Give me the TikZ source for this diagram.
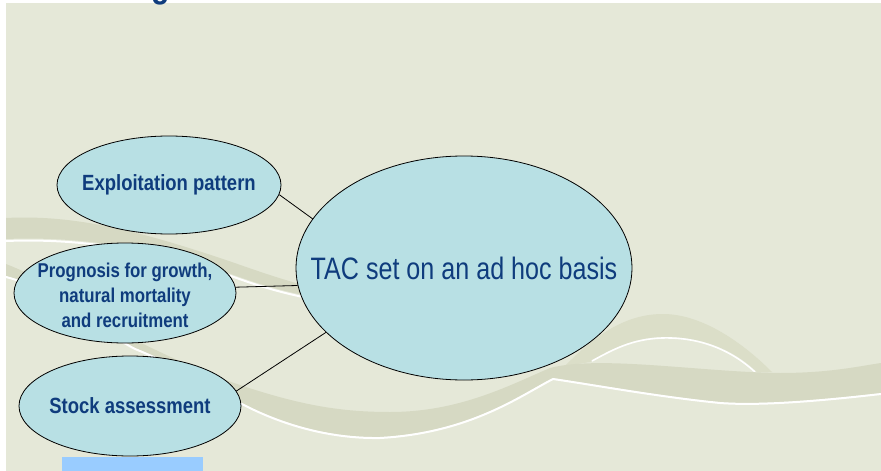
\documentclass[tikz,border=0pt]{standalone}
\usepackage{fontspec}
\usetikzlibrary{shapes.geometric}
\newfontfamily\tacfont[FakeStretch=0.81]{Liberation Sans}
\newfontfamily\lblfont[FakeStretch=0.84]{Liberation Sans}
\definecolor{bgcol}{HTML}{E5E8D8}
\definecolor{bandcol}{HTML}{D6D9C3}
\definecolor{humpcol}{HTML}{DBDEC8}
\definecolor{ellfill}{HTML}{B8E0E4}
\definecolor{txtblue}{HTML}{0F3C7D}
\definecolor{rectblue}{HTML}{99CCFF}
\begin{document}
\begin{tikzpicture}[x=1pt,y=-1pt,
  ell/.style={ellipse, draw=black, line width=0.8pt, fill=ellfill, inner sep=0pt},
  lbl/.style={text=txtblue, font=\lblfont\bfseries\fontsize{22}{26}\selectfont, align=center, inner sep=0pt},
  smlbl/.style={lbl, font=\lblfont\bfseries\fontsize{20}{25}\selectfont},
  taclbl/.style={text=txtblue, font=\tacfont\fontsize{31}{37}\selectfont, inner sep=0pt},
  conn/.style={draw=black, line width=0.8pt},
  whiteline/.style={draw=white, line width=2pt}]
\useasboundingbox (0,0) rectangle (881,471);
\clip (0,0) rectangle (881,471);
% background
\fill[bgcol] (6,3) rectangle (881,471);
% upper-left swoosh
\fill[bandcol] (6,218) .. controls (80,214) and (150,235) .. (220,258)
  .. controls (250,268) and (280,280) .. (330,292)
  -- (330,300) .. controls (280,292) and (250,281) .. (220,270)
  .. controls (150,248) and (80,236) .. (6,239) -- cycle;
\draw[whiteline] (6,241) .. controls (80,238) and (150,250) .. (220,272)
  .. controls (250,283) and (280,294) .. (330,302);
% hump swoosh
\fill[humpcol] (565,366) .. controls (600,330) and (630,314) .. (663,314)
  .. controls (700,314) and (740,340) .. (772,372)
  -- (757,372) .. controls (730,346) and (695,336) .. (662,337)
  .. controls (630,338) and (610,350) .. (590,362) -- cycle;
\draw[whiteline, line width=1.6pt] (592,361) .. controls (612,350) and (632,339) .. (662,338)
  .. controls (695,337) and (728,347) .. (755,372);
% lower swoosh
\fill[bandcol] (6,264) .. controls (60,285) and (100,320) .. (135,340)
  .. controls (180,362) and (210,375) .. (240,385)
  .. controls (300,405) and (340,412) .. (390,412)
  .. controls (460,412) and (510,385) .. (550,368)
  .. controls (600,355) and (700,372) .. (780,373)
  .. controls (830,373) and (860,366) .. (881,363)
  -- (881,393) .. controls (820,400) and (760,405) .. (720,402)
  .. controls (660,396) and (600,385) .. (553,378)
  .. controls (520,395) and (470,432) .. (380,437)
  .. controls (320,438) and (270,418) .. (240,402)
  .. controls (200,380) and (170,362) .. (135,348)
  .. controls (100,330) and (60,290) .. (6,276) -- cycle;
\draw[whiteline] (881,394) .. controls (820,401) and (760,406) .. (720,403)
  .. controls (660,397) and (600,386) .. (553,379)
  .. controls (520,396) and (470,433) .. (380,438)
  .. controls (320,439) and (270,419) .. (240,403)
  .. controls (200,381) and (170,363) .. (135,349)
  .. controls (100,331) and (60,291) .. (6,277);
% ellipses
\node[ell, minimum width=336pt, minimum height=224pt] (tac) at (464,268) {};
\node[ell, minimum width=224pt, minimum height=98pt] (expl) at (169,185) {};
\node[ell, minimum width=222pt, minimum height=100pt] (prog) at (125,293) {};
\node[ell, minimum width=222pt, minimum height=100pt] (stock) at (130,406) {};
% connectors
\draw[conn] (expl.-5) -- (tac.162);
\draw[conn] (prog.3) -- (tac.186);
\draw[conn] (stock.8) -- (tac.205);
% labels
\node[taclbl] (tact) at (464,268) {TAC set on an ad hoc basis};
\node[lbl] (explt) at (169,185) {Exploitation pattern};
\node[smlbl] (progt) at (125,295) {Prognosis for growth,\\natural mortality\\and recruitment};
\node[lbl] (stockt) at (130,406) {Stock assessment};
% bottom blue block
\fill[rectblue] (62,457) rectangle (203,471);
% cut-off title glyph
\node[anchor=south, inner sep=0pt, text=txtblue, font=\lblfont\bfseries\fontsize{36}{40}\selectfont] (titleg) at (161,5) {g};
\end{tikzpicture}
\end{document}
